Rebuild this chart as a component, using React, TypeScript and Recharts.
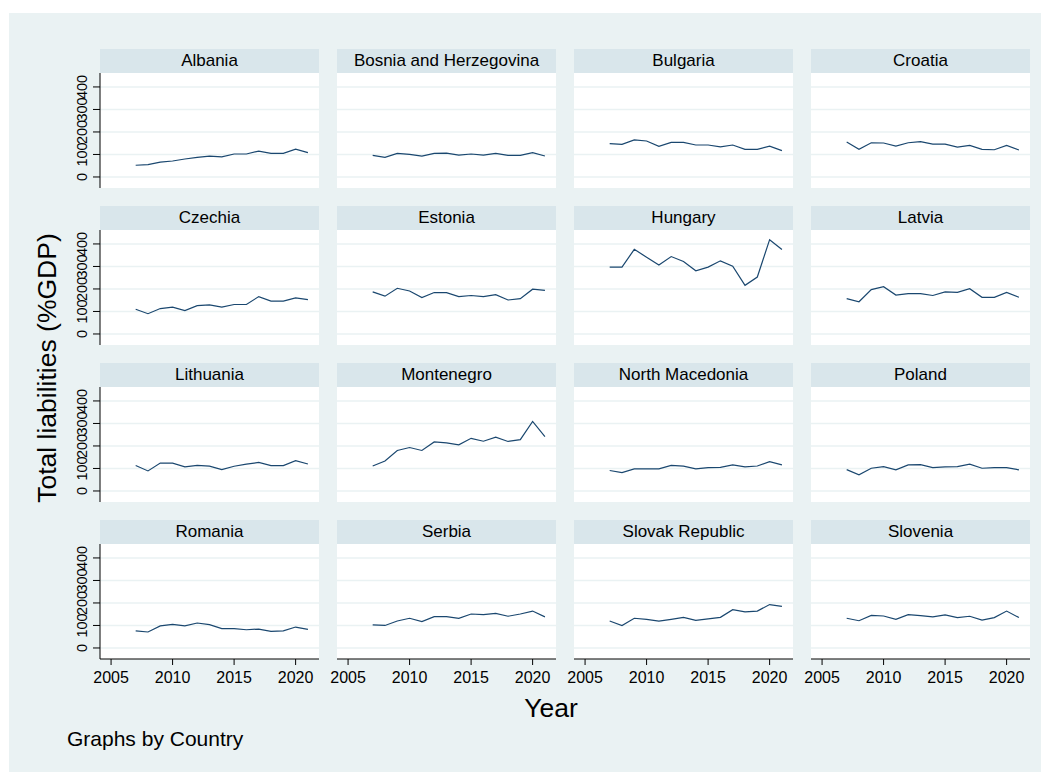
import { LineChart, Line, XAxis, YAxis, CartesianGrid } from 'recharts';

const YEARS = [2007, 2008, 2009, 2010, 2011, 2012, 2013, 2014, 2015, 2016, 2017, 2018, 2019, 2020, 2021];
const X_TICKS = [2005, 2010, 2015, 2020];
const Y_TICKS = [0, 100, 200, 300, 400];

const albania = [52, 55, 66, 71, 80, 87, 93, 89, 102, 102, 115, 105, 105, 124, 108];
const bosnia = [96, 87, 105, 100, 93, 105, 106, 97, 102, 97, 105, 96, 96, 108, 93];
const bulgaria = [148, 145, 165, 160, 136, 154, 154, 142, 142, 134, 142, 123, 123, 137, 117];
const croatia = [155, 123, 152, 151, 137, 152, 157, 146, 146, 133, 140, 123, 121, 140, 120];
const czechia = [110, 90, 113, 119, 104, 126, 129, 119, 131, 131, 166, 146, 146, 160, 153];
const estonia = [187, 168, 203, 191, 162, 184, 184, 166, 171, 166, 175, 151, 157, 199, 194];
const hungary = [297, 297, 376, 341, 306, 344, 322, 281, 297, 325, 301, 216, 253, 419, 375];
const latvia = [157, 143, 197, 210, 173, 179, 179, 171, 187, 185, 201, 163, 163, 185, 163];
const lithuania = [113, 89, 124, 124, 107, 114, 110, 95, 110, 119, 127, 113, 113, 135, 120];
const montenegro = [111, 133, 180, 193, 180, 218, 214, 205, 234, 221, 239, 220, 228, 309, 242];
const northMacedonia = [91, 82, 98, 98, 98, 114, 110, 98, 104, 105, 116, 107, 111, 130, 116];
const poland = [95, 72, 101, 108, 94, 116, 117, 104, 107, 108, 119, 101, 104, 104, 94];
const romania = [76, 71, 98, 105, 98, 111, 104, 86, 86, 81, 84, 74, 76, 93, 83];
const serbia = [103, 100, 120, 132, 117, 139, 139, 132, 151, 148, 154, 141, 151, 164, 138];
const slovakia = [120, 100, 132, 127, 119, 127, 136, 123, 129, 136, 170, 160, 164, 193, 185];
const slovenia = [132, 121, 145, 142, 127, 148, 144, 138, 147, 135, 141, 124, 135, 164, 135];

const COUNTRIES = [
  'Albania', 'Bosnia and Herzegovina', 'Bulgaria', 'Croatia',
  'Czechia', 'Estonia', 'Hungary', 'Latvia',
  'Lithuania', 'Montenegro', 'North Macedonia', 'Poland',
  'Romania', 'Serbia', 'Slovak Republic', 'Slovenia',
];
const SERIES = [
  albania, bosnia, bulgaria, croatia,
  czechia, estonia, hungary, latvia,
  lithuania, montenegro, northMacedonia, poland,
  romania, serbia, slovakia, slovenia,
];

const FONT = '"Liberation Sans", Arial, Helvetica, sans-serif';
const COL_X = [100, 337, 574, 811];
const ROW_Y = [73, 230, 387, 544];
const PLOT_W = 219;
const PLOT_H = 115;
const TITLE_H = 24;
const Y_AXIS_W = 40;
const X_AXIS_H = 30;
const SIDE = 18; // room so the edge tick labels are not clipped

function YTick({ x, y, payload }: any) {
  return (
    <text
      x={x}
      y={y}
      transform={`rotate(-90 ${x} ${y})`}
      textAnchor="middle"
      fontSize={14.5}
      fontFamily={FONT}
      fill="#000"
    >
      {payload.value}
    </text>
  );
}

function XTick({ x, y, payload }: any) {
  return (
    <text x={x} y={y} dy={18} textAnchor="middle" fontSize={16} fontFamily={FONT} fill="#000">
      {payload.value}
    </text>
  );
}

function Panel({ name, values, index }: { name: string; values: number[]; index: number }) {
  const col = index % 4;
  const row = Math.floor(index / 4);
  const first = col === 0;
  const bottom = row === 3;
  const data = YEARS.map((year, i) => ({ year, value: values[i] }));
  const leftPad = first ? 0 : SIDE;

  return (
    <>
      <div
        style={{
          position: 'absolute',
          left: COL_X[col],
          top: ROW_Y[row] - TITLE_H,
          width: PLOT_W,
          height: TITLE_H,
          lineHeight: `${TITLE_H}px`,
          background: '#d9e6eb',
          textAlign: 'center',
          fontSize: 17,
          fontFamily: FONT,
          color: '#000',
        }}
      >
        {name}
      </div>
      <div
        style={{
          position: 'absolute',
          left: COL_X[col] - (first ? Y_AXIS_W : leftPad),
          top: ROW_Y[row],
        }}
      >
        <LineChart
          width={PLOT_W + (first ? Y_AXIS_W : leftPad) + SIDE}
          height={PLOT_H + (bottom ? X_AXIS_H : 0)}
          data={data}
          margin={{ top: 0, right: SIDE, bottom: 0, left: leftPad }}
        >
          <CartesianGrid
            vertical={false}
            horizontalValues={Y_TICKS}
            stroke="#eaf2f3"
            strokeWidth={1.5}
            fill="#ffffff"
            fillOpacity={1}
          />
          <XAxis
            dataKey="year"
            type="number"
            domain={[2004.1, 2021.9]}
            ticks={X_TICKS}
            allowDataOverflow
            hide={!bottom}
            height={X_AXIS_H}
            tickSize={6}
            tickMargin={0}
            tick={<XTick />}
            axisLine={{ stroke: '#000' }}
            tickLine={{ stroke: '#000' }}
            interval={0}
          />
          <YAxis
            type="number"
            domain={[-49, 462]}
            ticks={Y_TICKS}
            allowDataOverflow
            hide={!first}
            width={Y_AXIS_W}
            tickSize={7}
            tickMargin={6}
            tick={<YTick />}
            axisLine={{ stroke: '#000' }}
            tickLine={{ stroke: '#000' }}
            interval={0}
          />
          <Line
            type="linear"
            dataKey="value"
            stroke="#1a476f"
            strokeWidth={1.2}
            dot={false}
            isAnimationActive={false}
          />
        </LineChart>
      </div>
    </>
  );
}

export default function App() {
  return (
    <div style={{ position: 'absolute', left: 0, top: 0, width: 1050, height: 773, background: '#fff' }}>
      <div
        style={{
          position: 'absolute',
          left: 9,
          top: 13,
          width: 1032,
          height: 759,
          background: '#eaf2f3',
        }}
      />
      {COUNTRIES.map((name, i) => (
        <Panel key={name} name={name} values={SERIES[i]} index={i} />
      ))}
      <svg
        width={1050}
        height={773}
        style={{ position: 'absolute', left: 0, top: 0, pointerEvents: 'none' }}
      >
        <text
          transform="translate(56 368) rotate(-90)"
          textAnchor="middle"
          fontSize={26.5}
          fontFamily={FONT}
          fill="#000"
        >
          Total liabilities (%GDP)
        </text>
        <text x={551} y={717} textAnchor="middle" fontSize={26.5} fontFamily={FONT} fill="#000">
          Year
        </text>
        <text x={67} y={746} fontSize={21} fontFamily={FONT} fill="#000">
          Graphs by Country
        </text>
      </svg>
    </div>
  );
}
